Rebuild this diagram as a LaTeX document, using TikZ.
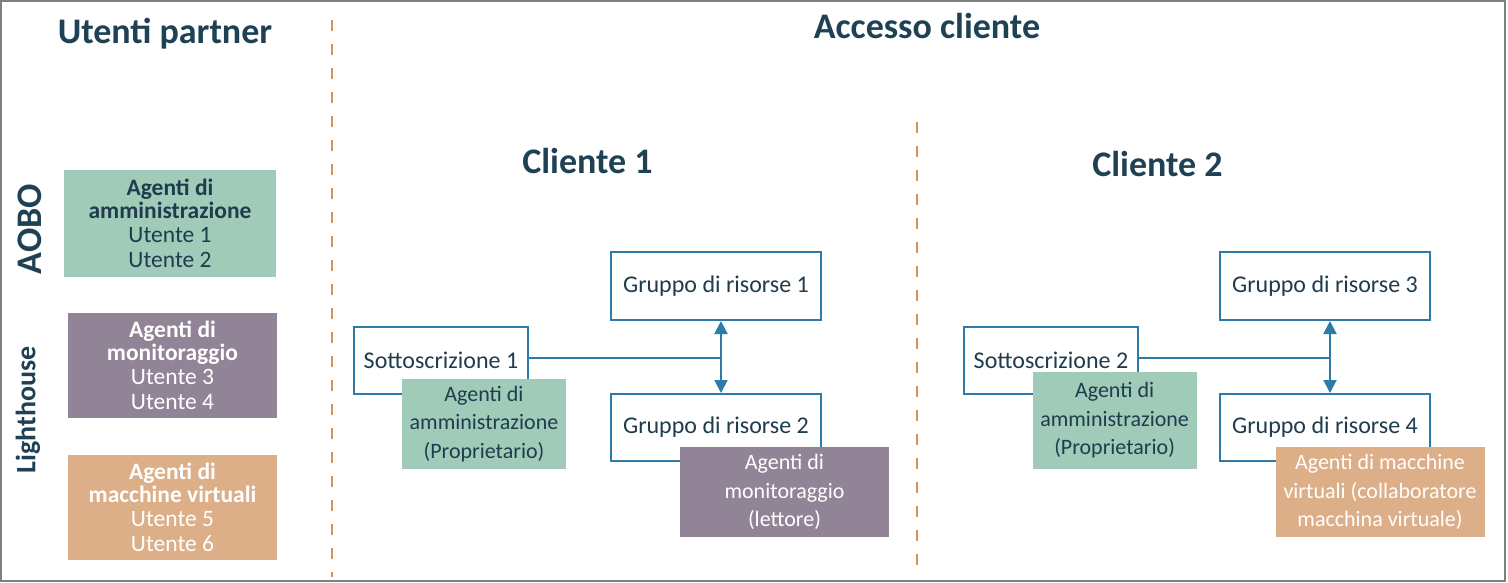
\documentclass[tikz,border=0pt]{standalone}
\usepackage{fontspec}
\setmainfont{Carlito}
\usetikzlibrary{arrows.meta}
\definecolor{hdrc}{RGB}{30,66,84}
\definecolor{txtc}{RGB}{31,60,77}
\definecolor{agreen}{RGB}{160,203,184}
\definecolor{apurple}{RGB}{145,132,151}
\definecolor{aorange}{RGB}{220,175,137}
\definecolor{bblue}{RGB}{46,123,170}
\definecolor{dashc}{RGB}{214,148,84}
\definecolor{framec}{RGB}{128,128,128}
\begin{document}
\begin{tikzpicture}[x=1pt,y=-1pt,
  hdr/.style={font=\fontsize{36}{40}\selectfont\bfseries, text=hdrc, anchor=base, inner sep=0},
  side/.style={font=\bfseries, text=hdrc, rotate=90, inner sep=0},
  rbox/.style={draw=bblue, line width=2pt, fill=white, inner sep=0, text=txtc,
     font=\fontsize{24}{28}\selectfont},
  agbox/.style={inner sep=0, align=center, font=\fontsize{22}{28.5}\selectfont},
  lbox/.style={inner sep=0, align=center, font=\fontsize{23.5}{24}\selectfont},
  sepline/.style={draw=dashc, line width=2pt, dash pattern=on 11pt off 13pt},
  conn/.style={draw=bblue, line width=2pt},
  dblarrow/.style={conn, {Triangle[length=13pt,width=13pt]}-{Triangle[length=13pt,width=13pt]}}
]
\useasboundingbox (0,0) rectangle (1508,583);
\fill[white] (0,0) rectangle (1508,583);
\draw[framec, line width=1.5pt] (1,1) rectangle (1505,581);

% separators
\coordinate (s1a) at (332,20);
\coordinate (s1b) at (332,577);
\coordinate (s2a) at (916.5,122);
\coordinate (s2b) at (916.5,577);
\draw[sepline] (s1a) -- (s1b);
\draw[sepline] (s2a) -- (s2b);

% headings
\node[hdr] (hpart) at (165,44) {Utenti partner};
\node[hdr] (hacc) at (927,39) {Accesso cliente};
\node[hdr] (hc1) at (587.5,174) {Cliente 1};
\node[hdr] (hc2) at (1157.5,176) {Cliente 2};
\node[side, font=\fontsize{36}{40}\selectfont\bfseries] (aobo) at (30,229) {AOBO};
\node[side, font=\fontsize{28}{32}\selectfont\bfseries] (lh) at (28,410) {Lighthouse};

% left boxes
\node[lbox, fill=agreen, text=txtc, minimum width=212pt, minimum height=107pt] (lb1) at (170,223.5)
  {\textbf{Agenti di}\\[-1pt]\textbf{amministrazione}\\[0pt]Utente 1\\[1pt]Utente 2};
\node[lbox, fill=apurple, text=white, minimum width=209pt, minimum height=105pt] (lb2) at (172.5,365.5)
  {\textbf{Agenti di}\\[-1pt]\textbf{monitoraggio}\\[0pt]Utente 3\\[1pt]Utente 4};
\node[lbox, fill=aorange, text=white, minimum width=209pt, minimum height=105pt] (lb3) at (172.5,507.5)
  {\textbf{Agenti di}\\[-1pt]\textbf{macchine virtuali}\\[0pt]Utente 5\\[1pt]Utente 6};

% Cliente 1
\node[rbox, minimum width=174pt, minimum height=67pt] (sub1) at (441,360.5) {Sottoscrizione 1};
\node[rbox, minimum width=210pt, minimum height=68pt] (g1) at (716,286) {Gruppo di risorse 1};
\node[rbox, minimum width=210pt, minimum height=67pt] (g2) at (716,427.5) {Gruppo di risorse 2};
\coordinate (j1) at (721,358);
\draw[conn] (sub1.east |- j1) -- (j1);
\draw[dblarrow] (g1.south -| j1) -- (g2.north -| j1);
\node[agbox, fill=agreen, text=txtc, minimum width=163.5pt, minimum height=90pt] (ag1) at (484,424)
  {Agenti di\\amministrazione\\(Proprietario)};
\node[agbox, fill=apurple, text=white, minimum width=209pt, minimum height=90pt] (ag2) at (784.5,492)
  {Agenti di\\monitoraggio\\(lettore)};

% Cliente 2
\node[rbox, minimum width=174pt, minimum height=67pt] (sub2) at (1051,360.5) {Sottoscrizione 2};
\node[rbox, minimum width=210pt, minimum height=68pt] (g3) at (1325,286) {Gruppo di risorse 3};
\node[rbox, minimum width=210pt, minimum height=67pt] (g4) at (1325,427.5) {Gruppo di risorse 4};
\coordinate (j2) at (1330,358);
\draw[conn] (sub2.east |- j2) -- (j2);
\draw[dblarrow] (g3.south -| j2) -- (g4.north -| j2);
\node[agbox, fill=agreen, text=txtc, minimum width=164pt, minimum height=97pt] (ag3) at (1114.6,420.5)
  {Agenti di\\amministrazione\\(Proprietario)};
\node[agbox, fill=aorange, text=white, minimum width=209pt, minimum height=90pt] (ag4) at (1380,492)
  {Agenti di macchine\\virtuali (collaboratore\\macchina virtuale)};
\end{tikzpicture}
\end{document}
